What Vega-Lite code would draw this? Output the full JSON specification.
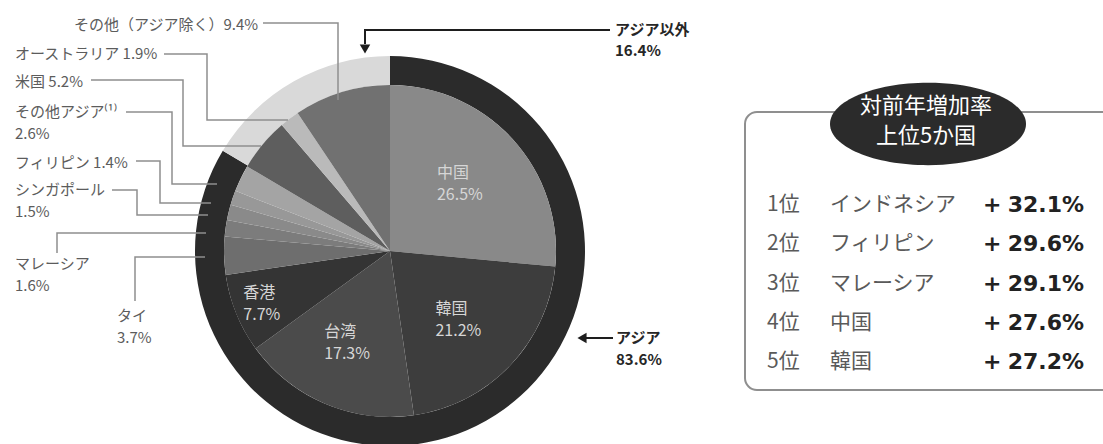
{
  "$schema": "https://vega.github.io/schema/vega-lite/v6.json",
  "width": 1103,
  "height": 444,
  "autosize": "none",
  "padding": 0,
  "background": "#ffffff",
  "config": {"view": {"stroke": null}, "font": "Noto Sans CJK JP", "text": {"font": "Noto Sans CJK JP"}},
  "datasets": {
    "slices": [
      {"name": "中国", "share": 0.265, "k": 1},
      {"name": "韓国", "share": 0.212, "k": 2},
      {"name": "台湾", "share": 0.173, "k": 3},
      {"name": "香港", "share": 0.077, "k": 4},
      {"name": "タイ", "share": 0.037, "k": 5},
      {"name": "マレーシア", "share": 0.016, "k": 6},
      {"name": "シンガポール", "share": 0.015, "k": 7},
      {"name": "フィリピン", "share": 0.014, "k": 8},
      {"name": "その他アジア", "share": 0.026, "k": 9},
      {"name": "米国", "share": 0.052, "k": 10},
      {"name": "オーストラリア", "share": 0.019, "k": 11},
      {"name": "その他（アジア除く）", "share": 0.094, "k": 12}
    ],
    "regions": [
      {"region": "アジア", "share": 0.836, "k": 1},
      {"region": "アジア以外", "share": 0.164, "k": 2}
    ],
    "callouts": [
      {"label": "その他（アジア除く）9.4%", "x": 74, "y": 25},
      {"label": "オーストラリア 1.9%", "x": 15, "y": 54},
      {"label": "米国 5.2%", "x": 15, "y": 82},
      {"label": "その他アジア⁽¹⁾", "x": 15, "y": 112},
      {"label": "2.6%", "x": 15, "y": 134},
      {"label": "フィリピン 1.4%", "x": 15, "y": 163},
      {"label": "シンガポール", "x": 15, "y": 190},
      {"label": "1.5%", "x": 15, "y": 212},
      {"label": "マレーシア", "x": 15, "y": 264},
      {"label": "1.6%", "x": 15, "y": 286},
      {"label": "タイ", "x": 117, "y": 316},
      {"label": "3.7%", "x": 117, "y": 338}
    ],
    "leaders": [
      {"id": 1, "k": 1, "x": 263, "y": 23}, {"id": 1, "k": 2, "x": 338, "y": 23}, {"id": 1, "k": 3, "x": 338, "y": 100},
      {"id": 2, "k": 1, "x": 164, "y": 54}, {"id": 2, "k": 2, "x": 207, "y": 54}, {"id": 2, "k": 3, "x": 207, "y": 120}, {"id": 2, "k": 4, "x": 288, "y": 120},
      {"id": 3, "k": 1, "x": 91, "y": 80}, {"id": 3, "k": 2, "x": 183, "y": 80}, {"id": 3, "k": 3, "x": 183, "y": 146}, {"id": 3, "k": 4, "x": 261, "y": 146},
      {"id": 4, "k": 1, "x": 126, "y": 112}, {"id": 4, "k": 2, "x": 172, "y": 112}, {"id": 4, "k": 3, "x": 172, "y": 184}, {"id": 4, "k": 4, "x": 217, "y": 184},
      {"id": 5, "k": 1, "x": 136, "y": 161}, {"id": 5, "k": 2, "x": 160, "y": 161}, {"id": 5, "k": 3, "x": 160, "y": 203}, {"id": 5, "k": 4, "x": 211, "y": 203},
      {"id": 6, "k": 1, "x": 112, "y": 190}, {"id": 6, "k": 2, "x": 137, "y": 190}, {"id": 6, "k": 3, "x": 137, "y": 215}, {"id": 6, "k": 4, "x": 208, "y": 215},
      {"id": 7, "k": 1, "x": 57, "y": 253}, {"id": 7, "k": 2, "x": 57, "y": 233}, {"id": 7, "k": 3, "x": 206, "y": 233},
      {"id": 8, "k": 1, "x": 135, "y": 301}, {"id": 8, "k": 2, "x": 135, "y": 257}, {"id": 8, "k": 3, "x": 205, "y": 257}
    ],
    "arrows": [
      {"id": "a", "k": 1, "x": 610, "y": 30}, {"id": "a", "k": 2, "x": 365, "y": 30}, {"id": "a", "k": 3, "x": 365, "y": 44},
      {"id": "b", "k": 1, "x": 613, "y": 338}, {"id": "b", "k": 2, "x": 586, "y": 338}
    ],
    "notes": [
      {"label": "アジア以外", "x": 615, "y": 30},
      {"label": "16.4%", "x": 615, "y": 51},
      {"label": "アジア", "x": 616, "y": 338},
      {"label": "83.6%", "x": 616, "y": 360}
    ],
    "header": [
      {"label": "対前年増加率", "x": 926, "y": 106},
      {"label": "上位5か国", "x": 926, "y": 136}
    ],
    "ranking": [
      {"rank": 1, "place": "1位", "country": "インドネシア", "growth": 0.321},
      {"rank": 2, "place": "2位", "country": "フィリピン", "growth": 0.296},
      {"rank": 3, "place": "3位", "country": "マレーシア", "growth": 0.291},
      {"rank": 4, "place": "4位", "country": "中国", "growth": 0.276},
      {"rank": 5, "place": "5位", "country": "韓国", "growth": 0.272}
    ]
  },
  "resolve": {"scale": {"y": "independent", "color": "independent"}},
  "layer": [
    {
      "data": {"name": "regions"},
      "mark": {"type": "arc", "innerRadius": 166, "outerRadius": 195},
      "encoding": {
        "x": {"datum": 390, "type": "quantitative", "scale": {"domain": [0, 1103], "nice": false, "zero": false}, "axis": null},
        "y": {"datum": 251, "type": "quantitative", "scale": {"domain": [0, 444], "reverse": true, "nice": false, "zero": false}, "axis": null},
        "theta": {"field": "share", "type": "quantitative", "stack": true, "scale": {"domain": [0, 1]}},
        "order": {"field": "k", "type": "quantitative"},
        "color": {"field": "region", "type": "nominal", "scale": {"domain": ["アジア", "アジア以外"], "range": ["#2b2b2b", "#d9d9d9"]}, "legend": null}
      }
    },
    {
      "data": {"name": "slices"},
      "mark": {"type": "arc", "outerRadius": 166},
      "encoding": {
        "x": {"datum": 390, "type": "quantitative", "scale": {"domain": [0, 1103], "nice": false, "zero": false}, "axis": null},
        "y": {"datum": 251, "type": "quantitative", "scale": {"domain": [0, 444], "reverse": true, "nice": false, "zero": false}, "axis": null},
        "theta": {"field": "share", "type": "quantitative", "stack": true, "scale": {"domain": [0, 1]}},
        "order": {"field": "k", "type": "quantitative"},
        "color": {
          "field": "name", "type": "nominal", "legend": null,
          "scale": {
            "domain": ["中国", "韓国", "台湾", "香港", "タイ", "マレーシア", "シンガポール", "フィリピン", "その他アジア", "米国", "オーストラリア", "その他（アジア除く）"],
            "range": ["#898989", "#3d3d3d", "#4b4b4b", "#343434", "#6e6e6e", "#7c7c7c", "#8a8a8a", "#989898", "#a4a4a4", "#5e5e5e", "#bababa", "#717171"]
          }
        }
      }
    },
    {
      "data": {"name": "slices"},
      "mark": {"type": "text", "radius": 100, "align": "left", "baseline": "middle", "dx": -27, "dy": -11, "fontSize": 16, "color": "#d6d6d6"},
      "encoding": {
        "x": {"datum": 390, "type": "quantitative", "scale": {"domain": [0, 1103], "nice": false, "zero": false}, "axis": null},
        "y": {"datum": 251, "type": "quantitative", "scale": {"domain": [0, 444], "reverse": true, "nice": false, "zero": false}, "axis": null},
        "theta": {"field": "share", "type": "quantitative", "stack": true, "scale": {"domain": [0, 1]}},
        "order": {"field": "k", "type": "quantitative"},
        "detail": {"field": "name", "type": "nominal"},
        "text": {"condition": {"test": "datum.name === '中国' || datum.name === '韓国' || datum.name === '台湾'", "field": "name"}, "value": ""}
      }
    },
    {
      "data": {"name": "slices"},
      "mark": {"type": "text", "radius": 100, "align": "left", "baseline": "middle", "dx": -27, "dy": 11, "fontSize": 16, "color": "#d6d6d6"},
      "encoding": {
        "x": {"datum": 390, "type": "quantitative", "scale": {"domain": [0, 1103], "nice": false, "zero": false}, "axis": null},
        "y": {"datum": 251, "type": "quantitative", "scale": {"domain": [0, 444], "reverse": true, "nice": false, "zero": false}, "axis": null},
        "theta": {"field": "share", "type": "quantitative", "stack": true, "scale": {"domain": [0, 1]}},
        "order": {"field": "k", "type": "quantitative"},
        "detail": {"field": "name", "type": "nominal"},
        "text": {"condition": {"test": "datum.name === '中国' || datum.name === '韓国' || datum.name === '台湾'", "field": "share", "type": "quantitative", "format": ".1%"}, "value": ""}
      }
    },
    {
      "data": {"name": "slices"},
      "mark": {"type": "text", "radius": 140, "align": "left", "baseline": "middle", "dx": -17, "dy": -11, "fontSize": 16, "color": "#d6d6d6"},
      "encoding": {
        "x": {"datum": 390, "type": "quantitative", "scale": {"domain": [0, 1103], "nice": false, "zero": false}, "axis": null},
        "y": {"datum": 251, "type": "quantitative", "scale": {"domain": [0, 444], "reverse": true, "nice": false, "zero": false}, "axis": null},
        "theta": {"field": "share", "type": "quantitative", "stack": true, "scale": {"domain": [0, 1]}},
        "order": {"field": "k", "type": "quantitative"},
        "detail": {"field": "name", "type": "nominal"},
        "text": {"condition": {"test": "datum.name === '香港'", "field": "name"}, "value": ""}
      }
    },
    {
      "data": {"name": "slices"},
      "mark": {"type": "text", "radius": 140, "align": "left", "baseline": "middle", "dx": -17, "dy": 11, "fontSize": 16, "color": "#d6d6d6"},
      "encoding": {
        "x": {"datum": 390, "type": "quantitative", "scale": {"domain": [0, 1103], "nice": false, "zero": false}, "axis": null},
        "y": {"datum": 251, "type": "quantitative", "scale": {"domain": [0, 444], "reverse": true, "nice": false, "zero": false}, "axis": null},
        "theta": {"field": "share", "type": "quantitative", "stack": true, "scale": {"domain": [0, 1]}},
        "order": {"field": "k", "type": "quantitative"},
        "detail": {"field": "name", "type": "nominal"},
        "text": {"condition": {"test": "datum.name === '香港'", "field": "share", "type": "quantitative", "format": ".1%"}, "value": ""}
      }
    },
    {
      "data": {"name": "leaders"},
      "mark": {"type": "line", "color": "#8e8e8e", "strokeWidth": 1.5},
      "encoding": {
        "x": {"field": "x", "type": "quantitative", "scale": {"domain": [0, 1103], "nice": false, "zero": false}, "axis": null},
        "y": {"field": "y", "type": "quantitative", "scale": {"domain": [0, 444], "reverse": true, "nice": false, "zero": false}, "axis": null},
        "detail": {"field": "id", "type": "nominal"},
        "order": {"field": "k", "type": "quantitative"}
      }
    },
    {
      "data": {"name": "callouts"},
      "mark": {"type": "text", "align": "left", "baseline": "middle", "fontSize": 15, "color": "#5c5c5c"},
      "encoding": {
        "x": {"field": "x", "type": "quantitative", "scale": {"domain": [0, 1103], "nice": false, "zero": false}, "axis": null},
        "y": {"field": "y", "type": "quantitative", "scale": {"domain": [0, 444], "reverse": true, "nice": false, "zero": false}, "axis": null},
        "text": {"field": "label"}
      }
    },
    {
      "data": {"name": "arrows"},
      "mark": {"type": "line", "color": "#1e1e1e", "strokeWidth": 2},
      "encoding": {
        "x": {"field": "x", "type": "quantitative", "scale": {"domain": [0, 1103], "nice": false, "zero": false}, "axis": null},
        "y": {"field": "y", "type": "quantitative", "scale": {"domain": [0, 444], "reverse": true, "nice": false, "zero": false}, "axis": null},
        "detail": {"field": "id", "type": "nominal"},
        "order": {"field": "k", "type": "quantitative"}
      }
    },
    {
      "data": {"values": [{}]},
      "mark": {"type": "point", "shape": "triangle-down", "filled": true, "opacity": 1, "color": "#1e1e1e", "size": 110},
      "encoding": {
        "x": {"datum": 365, "type": "quantitative", "scale": {"domain": [0, 1103], "nice": false, "zero": false}, "axis": null},
        "y": {"datum": 49, "type": "quantitative", "scale": {"domain": [0, 444], "reverse": true, "nice": false, "zero": false}, "axis": null}
      }
    },
    {
      "data": {"values": [{}]},
      "mark": {"type": "point", "shape": "triangle-left", "filled": true, "opacity": 1, "color": "#1e1e1e", "size": 110},
      "encoding": {
        "x": {"datum": 582, "type": "quantitative", "scale": {"domain": [0, 1103], "nice": false, "zero": false}, "axis": null},
        "y": {"datum": 338, "type": "quantitative", "scale": {"domain": [0, 444], "reverse": true, "nice": false, "zero": false}, "axis": null}
      }
    },
    {
      "data": {"name": "notes"},
      "mark": {"type": "text", "align": "left", "baseline": "middle", "fontSize": 15, "fontWeight": "bold", "color": "#262626"},
      "encoding": {
        "x": {"field": "x", "type": "quantitative", "scale": {"domain": [0, 1103], "nice": false, "zero": false}, "axis": null},
        "y": {"field": "y", "type": "quantitative", "scale": {"domain": [0, 444], "reverse": true, "nice": false, "zero": false}, "axis": null},
        "text": {"field": "label"}
      }
    },
    {
      "data": {"values": [{}]},
      "mark": {"type": "rect", "cornerRadius": 12, "fill": "#ffffff", "stroke": "#8f8f8f", "strokeWidth": 2},
      "encoding": {
        "x": {"datum": 745, "type": "quantitative", "scale": {"domain": [0, 1103], "nice": false, "zero": false}, "axis": null},
        "x2": {"datum": 1115},
        "y": {"datum": 112, "type": "quantitative", "scale": {"domain": [0, 444], "reverse": true, "nice": false, "zero": false}, "axis": null},
        "y2": {"datum": 390}
      }
    },
    {
      "data": {"values": [{}]},
      "mark": {"type": "point", "shape": "M -1 0 A 1 0.42 0 1 1 1 0 A 1 0.42 0 1 1 -1 0 Z", "filled": true, "opacity": 1, "color": "#2b2b2b", "size": 38416},
      "encoding": {
        "x": {"datum": 928, "type": "quantitative", "scale": {"domain": [0, 1103], "nice": false, "zero": false}, "axis": null},
        "y": {"datum": 124, "type": "quantitative", "scale": {"domain": [0, 444], "reverse": true, "nice": false, "zero": false}, "axis": null}
      }
    },
    {
      "data": {"name": "header"},
      "mark": {"type": "text", "align": "center", "baseline": "middle", "fontSize": 22, "color": "#ffffff"},
      "encoding": {
        "x": {"field": "x", "type": "quantitative", "scale": {"domain": [0, 1103], "nice": false, "zero": false}, "axis": null},
        "y": {"field": "y", "type": "quantitative", "scale": {"domain": [0, 444], "reverse": true, "nice": false, "zero": false}, "axis": null},
        "text": {"field": "label"}
      }
    },
    {
      "data": {"name": "ranking"},
      "mark": {"type": "text", "align": "left", "baseline": "middle", "fontSize": 21, "color": "#5a5a5a"},
      "encoding": {
        "x": {"datum": 767, "type": "quantitative", "scale": {"domain": [0, 1103], "nice": false, "zero": false}, "axis": null},
        "y": {"field": "rank", "type": "quantitative", "scale": {"domain": [-4.223, 7.089], "reverse": true, "nice": false, "zero": false}, "axis": null},
        "text": {"field": "place"}
      }
    },
    {
      "data": {"name": "ranking"},
      "mark": {"type": "text", "align": "left", "baseline": "middle", "fontSize": 21, "color": "#5a5a5a"},
      "encoding": {
        "x": {"datum": 830, "type": "quantitative", "scale": {"domain": [0, 1103], "nice": false, "zero": false}, "axis": null},
        "y": {"field": "rank", "type": "quantitative", "scale": {"domain": [-4.223, 7.089], "reverse": true, "nice": false, "zero": false}, "axis": null},
        "text": {"field": "country"}
      }
    },
    {
      "data": {"name": "ranking"},
      "mark": {"type": "text", "text": "+", "align": "left", "baseline": "middle", "fontSize": 22, "fontWeight": "bold", "font": "DejaVu Sans", "color": "#222222"},
      "encoding": {
        "x": {"datum": 983, "type": "quantitative", "scale": {"domain": [0, 1103], "nice": false, "zero": false}, "axis": null},
        "y": {"field": "rank", "type": "quantitative", "scale": {"domain": [-4.223, 7.089], "reverse": true, "nice": false, "zero": false}, "axis": null}
      }
    },
    {
      "data": {"name": "ranking"},
      "mark": {"type": "text", "align": "right", "baseline": "middle", "fontSize": 22, "fontWeight": "bold", "font": "DejaVu Sans", "color": "#222222"},
      "encoding": {
        "x": {"datum": 1084, "type": "quantitative", "scale": {"domain": [0, 1103], "nice": false, "zero": false}, "axis": null},
        "y": {"field": "rank", "type": "quantitative", "scale": {"domain": [-4.223, 7.089], "reverse": true, "nice": false, "zero": false}, "axis": null},
        "text": {"field": "growth", "type": "quantitative", "format": ".1%"}
      }
    }
  ]
}
